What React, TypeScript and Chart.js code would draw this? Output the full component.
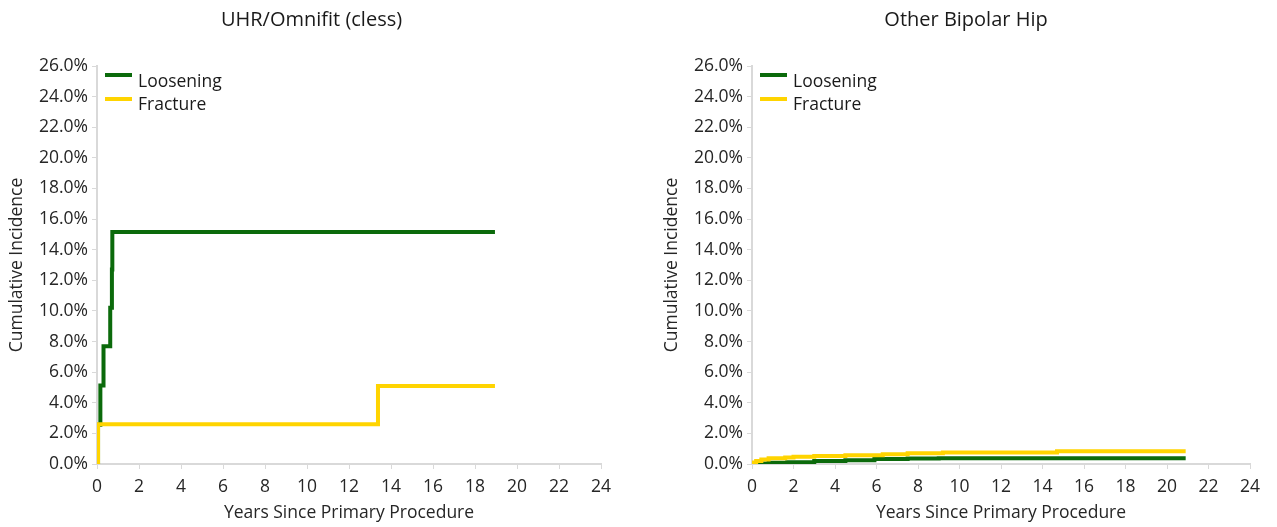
import React, { useEffect, useRef } from "react";
import { Chart, registerables } from "chart.js";

Chart.register(...registerables);

const FONT = "'Open Sans', 'Noto Sans', sans-serif";
const GREEN = "#0B6A0B";
const YELLOW = "#FFD400";

const xTicks = [0, 2, 4, 6, 8, 10, 12, 14, 16, 18, 20, 22, 24];
const yMax = 26;
const seriesNames = ["Loosening", "Fracture"];

const leftTitle = "UHR/Omnifit (cless)";
const leftLoosening = [
  { x: 0, y: 0 },
  { x: 0.05, y: 2.56 },
  { x: 0.16, y: 5.13 },
  { x: 0.31, y: 7.69 },
  { x: 0.63, y: 10.2 },
  { x: 0.71, y: 12.7 },
  { x: 0.73, y: 15.15 },
  { x: 18.95, y: 15.15 },
];
const leftFracture = [
  { x: 0, y: 0 },
  { x: 0.05, y: 2.6 },
  { x: 13.38, y: 5.1 },
  { x: 18.95, y: 5.1 },
];

const rightTitle = "Other Bipolar Hip";
const rightLoosening = [
  { x: 0, y: 0 },
  { x: 0.15, y: 0.04 },
  { x: 0.8, y: 0.08 },
  { x: 1.7, y: 0.12 },
  { x: 3.0, y: 0.2 },
  { x: 4.5, y: 0.24 },
  { x: 5.9, y: 0.33 },
  { x: 7.5, y: 0.36 },
  { x: 9.0, y: 0.38 },
  { x: 20.9, y: 0.38 },
];
const rightFracture = [
  { x: 0, y: 0 },
  { x: 0.05, y: 0.1 },
  { x: 0.2, y: 0.2 },
  { x: 0.45, y: 0.3 },
  { x: 0.8, y: 0.37 },
  { x: 1.6, y: 0.43 },
  { x: 2.0, y: 0.47 },
  { x: 3.0, y: 0.52 },
  { x: 4.5, y: 0.57 },
  { x: 6.3, y: 0.64 },
  { x: 7.5, y: 0.7 },
  { x: 9.2, y: 0.75 },
  { x: 14.7, y: 0.83 },
  { x: 20.9, y: 0.83 },
];

type Pt = { x: number; y: number };

const TXT = 17.5;

function Panel(props: {
  left: number;
  width: number;
  title: string;
  loosening: Pt[];
  fracture: Pt[];
  pad: number;
}) {
  const ref = useRef<HTMLCanvasElement | null>(null);
  useEffect(() => {
    if (!ref.current) return;
    const pad = props.pad;
    const chart = new Chart(ref.current, {
      type: "line",
      data: {
        datasets: [
          {
            label: seriesNames[0],
            data: props.loosening,
            borderColor: GREEN,
            backgroundColor: GREEN,
            borderWidth: 4,
            pointRadius: 0,
            stepped: true,
            order: 1,
          },
          {
            label: seriesNames[1],
            data: props.fracture,
            borderColor: YELLOW,
            backgroundColor: YELLOW,
            borderWidth: 4,
            pointRadius: 0,
            stepped: true,
            order: 0,
          },
        ],
      },
      options: {
        animation: false,
        responsive: true,
        maintainAspectRatio: false,
        layout: { padding: { left: pad, right: pad, top: 0, bottom: 0 } },
        plugins: {
          legend: { display: false },
          tooltip: { enabled: false },
          title: {
            display: true,
            text: props.title,
            color: "#1a1a1a",
            font: { family: FONT, size: 20, weight: "normal" },
            padding: { top: 8, bottom: 34 },
          },
        },
        scales: {
          x: {
            type: "linear",
            min: 0,
            max: 24,
            afterBuildTicks: (s: any) => {
              s.ticks = xTicks.map((v) => ({ value: v }));
            },
            afterFit: (s: any) => {
              s.height = 63;
            },
            grid: {
              display: true,
              drawOnChartArea: false,
              drawTicks: true,
              tickLength: 5,
              color: "#d9d9d9",
              lineWidth: 1,
            },
            border: { display: true, color: "#d9d9d9", width: 2 },
            ticks: {
              color: "#262626",
              font: { family: FONT, size: TXT },
              padding: 8,
              maxRotation: 0,
              autoSkip: false,
            },
            title: {
              display: true,
              text: "Years Since Primary Procedure",
              color: "#262626",
              font: { family: FONT, size: TXT },
              padding: { top: 0, bottom: 3.5 },
            },
          },
          y: {
            type: "linear",
            min: 0,
            max: yMax,
            afterFit: (s: any) => {
              s.width = 97 - pad;
            },
            grid: {
              display: true,
              drawOnChartArea: false,
              drawTicks: true,
              tickLength: 5,
              color: "#d9d9d9",
              lineWidth: 1,
            },
            border: { display: true, color: "#d9d9d9", width: 2 },
            ticks: {
              stepSize: 2,
              color: "#262626",
              font: { family: FONT, size: TXT },
              padding: 4,
              callback: (v: any) => Number(v).toFixed(1) + "%",
            },
            title: {
              display: true,
              text: "Cumulative Incidence",
              color: "#262626",
              font: { family: FONT, size: TXT },
              padding: { top: 6.5 - pad, bottom: 0 },
            },
          },
        },
      },
    });
    return () => chart.destroy();
  }, []);

  const legendRow = (name: string, color: string, lineY: number, textY: number) => (
    <div style={{ position: "absolute", left: 105, top: 0 }}>
      <span
        style={{
          position: "absolute",
          left: 0,
          top: lineY - 2,
          width: 27,
          height: 4,
          background: color,
        }}
      />
      <span
        style={{
          position: "absolute",
          left: 33,
          top: textY - 12,
          height: 24,
          lineHeight: "24px",
          fontFamily: FONT,
          fontSize: TXT,
          color: "#1a1a1a",
          whiteSpace: "nowrap",
        }}
      >
        {name}
      </span>
    </div>
  );

  return (
    <div style={{ position: "absolute", left: props.left, top: 0, width: props.width, height: 527 }}>
      <canvas ref={ref} />
      {legendRow(seriesNames[0], GREEN, 75, 80)}
      {legendRow(seriesNames[1], YELLOW, 99, 103)}
    </div>
  );
}

export default function App() {
  return (
    <div style={{ position: "fixed", left: 0, top: 0, width: 1277, height: 527, background: "#fff" }}>
      <Panel left={0} width={623} title={leftTitle} loosening={leftLoosening} fracture={leftFracture} pad={22} />
      <Panel left={655} width={622} title={rightTitle} loosening={rightLoosening} fracture={rightFracture} pad={27} />
    </div>
  );
}
